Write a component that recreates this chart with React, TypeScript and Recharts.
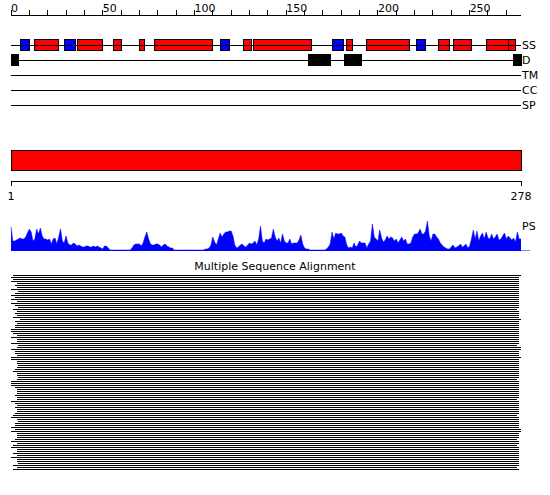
import React from 'react';
import {
  ComposedChart,
  AreaChart,
  Area,
  BarChart,
  Bar,
  Line,
  XAxis,
  YAxis,
  ReferenceArea,
  ReferenceLine,
} from 'recharts';

const seqLength = 278;
const trackNames = ['SS', 'D', 'TM', 'CC', 'SP'];
const rulerTicks = [0, 10, 20, 30, 40, 50, 60, 70, 80, 90, 100, 110, 120, 130, 140, 150, 160, 170, 180, 190, 200, 210, 220, 230, 240, 250, 260, 270];

// secondary structure: helix (red) and strand (blue) segments, residue ranges
const helices = [
  [13, 26], [36, 50], [56, 60], [70, 73], [78, 110], [127, 131], [132, 164],
  [183, 186], [194, 217], [233, 239], [241, 251], [259, 271], [271, 275],
];
const strands = [[5, 10], [29, 35], [114, 119], [175, 181], [221, 226]];
// disordered regions
const disorder = [[0, 4], [162, 174], [182, 191], [274, 278]];

// PS profile, one value per residue 0..278
const psScores = [
  24, 10, 10, 11, 12, 13, 12, 12, 14, 18,
  22, 19, 10, 12, 22, 17, 23, 15, 12, 12,
  11, 12, 7, 12, 13, 7, 14, 22, 10, 8,
  15, 8, 6, 6, 8, 7, 5, 6, 5, 4,
  4, 5, 5, 4, 4, 5, 4, 5, 4, 3,
  2, 5, 5, 3, 1, 1, 1, 1, 1, 1,
  1, 1, 1, 1, 1, 1, 3, 6, 7, 7,
  7, 5, 8, 14, 19, 12, 7, 6, 6, 7,
  7, 6, 4, 6, 7, 5, 4, 3, 3, 1,
  1, 1, 1, 1, 1, 1, 1, 1, 1, 1,
  1, 1, 1, 1, 1, 1, 2, 2, 3, 6,
  14, 9, 6, 12, 18, 14, 17, 19, 19, 20,
  20, 15, 6, 3, 4, 6, 7, 5, 4, 6,
  8, 7, 8, 10, 6, 12, 25, 10, 8, 12,
  11, 12, 13, 22, 14, 10, 13, 8, 17, 10,
  8, 8, 12, 7, 8, 8, 8, 11, 16, 7,
  3, 2, 2, 1, 1, 1, 1, 1, 1, 1,
  1, 1, 2, 4, 7, 19, 12, 18, 17, 17,
  18, 15, 14, 6, 3, 4, 3, 8, 4, 6,
  10, 8, 8, 8, 3, 7, 10, 27, 14, 12,
  10, 21, 13, 9, 11, 15, 12, 14, 13, 10,
  12, 8, 11, 14, 10, 12, 7, 7, 8, 14,
  17, 17, 18, 22, 17, 17, 20, 30, 15, 10,
  17, 17, 14, 12, 8, 6, 4, 3, 2, 2,
  4, 6, 3, 4, 5, 7, 4, 5, 7, 3,
  5, 12, 21, 12, 20, 10, 15, 18, 12, 19,
  13, 12, 17, 12, 14, 17, 11, 12, 15, 18,
  12, 15, 13, 11, 13, 9, 19, 12, 12,
];

// alignment rows: first and last aligned residue
const msaStarts = [
  1, 0, 1, 0, 3, 2, 3, 0, 4, 2,
  0, 2, 0, 3, 0, 2, 4, 1, 3, 2,
  3, 1, 5, 2, 3, 2, 2, 0, 0, 1,
  3, 0, 3, 3, 0, 4, 3, 0, 2, 2,
  3, 0, 0, 3, 3, 4, 3, 2, 1, 3,
  3, 4, 3, 0, 0, 0, 2, 3, 3, 3,
  2, 3, 3, 0, 2, 3, 2, 3, 3, 2,
  1, 0, 3, 4, 2, 2, 0, 2, 0, 3,
  3, 3, 2, 0, 3, 1, 0, 3, 3, 1,
  3, 0, 3, 3, 4, 1, 3, 1,
];
const msaEnds = [
  278, 277, 277, 277, 277, 277, 277, 277, 277, 277,
  277, 277, 277, 277, 277, 277, 277, 276, 277, 277,
  277, 277, 278, 277, 277, 277, 277, 277, 277, 277,
  277, 277, 277, 277, 277, 276, 278, 278, 277, 277,
  277, 278, 277, 277, 277, 277, 277, 277, 277, 277,
  277, 277, 276, 277, 277, 277, 277, 277, 277, 277,
  277, 277, 276, 277, 277, 277, 277, 277, 277, 277,
  276, 277, 277, 277, 277, 277, 277, 278, 278, 277,
  277, 277, 276, 277, 277, 276, 277, 277, 277, 277,
  277, 277, 277, 277, 277, 277, 276, 277,
];

const font = 'DejaVu Sans';
const psData = psScores.map((v, i) => ({ pos: i, ps: v }));
const msaData = msaStarts.map((s, i) => ({ row: i, span: [s, msaEnds[i]] }));
// each track line runs the full sequence
const trackEnds = [{ pos: 0 }, { pos: seqLength }];
const rulerEnds = [{ pos: 1 }, { pos: seqLength }];

const TopTick = (props: any) => {
  const { x, y, payload } = props;
  if (payload.value % 50 !== 0) return null;
  return (
    <text x={x} y={y + 2} textAnchor="start" fontSize={11} fontFamily={font} fill="#000">
      {payload.value}
    </text>
  );
};

const box = { position: 'absolute' as const, left: 0 };

export default function App() {
  return (
    <div style={{ position: 'absolute', left: 0, top: 0, width: 550, height: 495, background: '#fff' }}>
      {/* feature tracks */}
      <div style={{ ...box, top: 0, shapeRendering: 'crispEdges' }}>
        <ComposedChart width={550} height={120} data={trackEnds} margin={{ top: 0, right: 0, left: 11, bottom: 0 }}>
          <XAxis
            xAxisId="r"
            dataKey="pos"
            type="number"
            orientation="top"
            domain={[0, seqLength]}
            ticks={rulerTicks}
            interval={0}
            height={15}
            tickSize={5}
            tickMargin={0}
            axisLine={{ stroke: '#000' }}
            tickLine={{ stroke: '#000' }}
            tick={<TopTick />}
            allowDataOverflow
          />
          <YAxis
            yAxisId="t"
            type="number"
            orientation="right"
            domain={[-2, 5]}
            reversed
            ticks={[0, 1, 2, 3, 4]}
            interval={0}
            tickFormatter={(v: number) => trackNames[v]}
            width={29}
            tickSize={0}
            tickMargin={1}
            axisLine={false}
            tickLine={false}
            tick={{ fill: '#000', fontSize: 11, fontFamily: font }}
            allowDataOverflow
          />
          {trackNames.map((n, i) => (
            <Line key={n} xAxisId="r" yAxisId="t" dataKey={() => i} stroke="#000" strokeWidth={1}
              dot={false} activeDot={false} isAnimationActive={false} />
          ))}
          {helices.map(([a, b], i) => (
            <ReferenceArea key={'h' + i} xAxisId="r" yAxisId="t" x1={a} x2={b} y1={-0.35} y2={0.35}
              fill="#ff0000" fillOpacity={1} stroke="#000" strokeWidth={1} />
          ))}
          {strands.map(([a, b], i) => (
            <ReferenceArea key={'s' + i} xAxisId="r" yAxisId="t" x1={a} x2={b} y1={-0.35} y2={0.35}
              fill="#0000ff" fillOpacity={1} stroke="#000" strokeWidth={1} />
          ))}
          {disorder.map(([a, b], i) => (
            <ReferenceArea key={'d' + i} xAxisId="r" yAxisId="t" x1={a} x2={b} y1={0.65} y2={1.35}
              fill="#000" fillOpacity={1} stroke="#000" strokeWidth={1} />
          ))}
        </ComposedChart>
      </div>

      {/* whole sequence bar with ruler */}
      <div style={{ ...box, top: 140, shapeRendering: 'crispEdges' }}>
        <ComposedChart width={550} height={67} data={rulerEnds} margin={{ top: 0, right: 29, left: 11, bottom: 0 }}>
          <XAxis
            dataKey="pos"
            type="number"
            domain={[1, seqLength]}
            ticks={[1, seqLength]}
            interval={0}
            height={26}
            tickSize={5}
            tickMargin={6}
            axisLine={{ stroke: '#000' }}
            tickLine={{ stroke: '#000' }}
            tick={{ fill: '#000', fontSize: 11, fontFamily: font }}
          />
          <YAxis hide type="number" domain={[0, 41]} />
          <Line dataKey={() => 0} stroke="none" dot={false} activeDot={false} isAnimationActive={false} />
          <ReferenceArea x1={1} x2={seqLength} y1={10.5} y2={31} fill="#ff0000" fillOpacity={1} stroke="#000" strokeWidth={1} />
        </ComposedChart>
      </div>

      {/* PS profile */}
      <div style={{ ...box, top: 215 }}>
        <AreaChart width={550} height={36} data={psData} margin={{ top: 0, right: 0, left: 11, bottom: 0 }}>
          <XAxis hide dataKey="pos" type="number" domain={[0, seqLength]} />
          <YAxis
            type="number"
            orientation="right"
            domain={[0, 36]}
            ticks={[25]}
            tickFormatter={() => 'PS'}
            width={29}
            tickSize={0}
            tickMargin={1}
            axisLine={false}
            tickLine={false}
            tick={{ fill: '#000', fontSize: 11, fontFamily: font }}
          />
          <ReferenceLine segment={[{ x: seqLength, y: 0 }, { x: 283, y: 0 }]} stroke="#0000ff" ifOverflow="visible" />
          <Area type="linear" dataKey="ps" stroke="#0000ff" strokeWidth={0.5} fill="#0000ff" fillOpacity={1} isAnimationActive={false} />
        </AreaChart>
      </div>

      <div style={{ ...box, top: 260, width: 550, textAlign: 'center', fontFamily: font, fontSize: 11, color: '#000' }}>
        Multiple Sequence Alignment
      </div>

      {/* alignment rows */}
      <div style={{ ...box, top: 274, shapeRendering: 'crispEdges' }}>
        <BarChart width={550} height={msaData.length * 2} data={msaData} layout="vertical"
          margin={{ top: 0, right: 29, left: 11, bottom: 0 }} barCategoryGap={0}>
          <XAxis hide type="number" domain={[0, seqLength]} />
          <YAxis hide type="category" dataKey="row" />
          <Bar dataKey="span" fill="#000" barSize={1} isAnimationActive={false} />
        </BarChart>
      </div>
    </div>
  );
}
